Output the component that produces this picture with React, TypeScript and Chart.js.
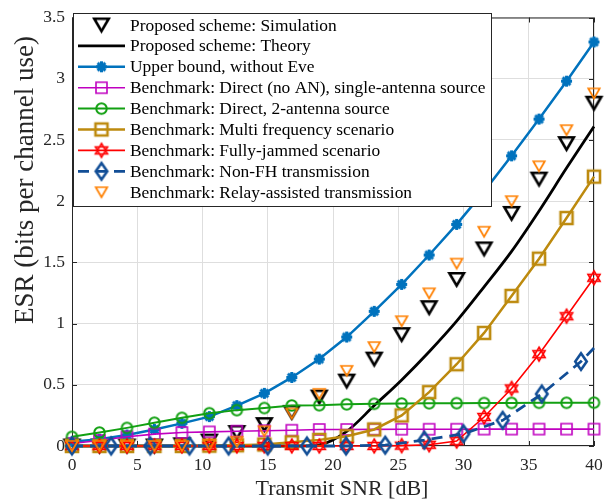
import React, { useEffect, useRef } from 'react';
import { Chart, registerables } from 'chart.js';

Chart.register(...registerables);

// ---------- data ----------
const SNR_DB = [0, 2.105, 4.211, 6.316, 8.421, 10.526, 12.632, 14.737, 16.842, 18.947, 21.053, 23.158, 25.263, 27.368, 29.474, 31.579, 33.684, 35.789, 37.895, 40];
const SIM = [0, 0, 0, 0, 0.01, 0.04, 0.11, 0.175, 0.275, 0.4, 0.53, 0.71, 0.91, 1.13, 1.36, 1.61, 1.9, 2.18, 2.47, 2.8];
const THEORY = [0, 0, 0, 0, 0, 0, 0, 0, 0, 0.01, 0.12, 0.33, 0.54, 0.77, 1.02, 1.3, 1.59, 1.92, 2.27, 2.61];
const UPPER = [0.035, 0.055, 0.09, 0.135, 0.185, 0.24, 0.33, 0.43, 0.56, 0.71, 0.89, 1.1, 1.32, 1.56, 1.81, 2.08, 2.37, 2.67, 2.98, 3.3];
const DIRECT_NO_AN = [0.02, 0.045, 0.075, 0.097, 0.11, 0.115, 0.121, 0.125, 0.129, 0.135, 0.135, 0.136, 0.137, 0.137, 0.137, 0.138, 0.138, 0.138, 0.138, 0.138];
const DIRECT_2ANT = [0.075, 0.11, 0.148, 0.19, 0.23, 0.268, 0.293, 0.31, 0.331, 0.333, 0.34, 0.345, 0.347, 0.349, 0.35, 0.351, 0.352, 0.353, 0.353, 0.354];
const MULTI_FREQ = [0, 0, 0, 0, 0, 0.003, 0.006, 0.012, 0.03, 0.05, 0.08, 0.135, 0.25, 0.44, 0.668, 0.924, 1.226, 1.53, 1.862, 2.2];
const FULL_JAM = [0, 0, 0, 0, 0, 0, 0, 0, 0, 0, 0, 0, 0.003, 0.01, 0.04, 0.237, 0.47, 0.75, 1.06, 1.374];
const NONFH_SNR = [0, 3, 6, 9, 12, 15, 18, 21, 24, 27, 30, 33, 36, 39, 40];
const NONFH = [0, 0, 0, 0, 0, 0, 0, 0, 0.007, 0.048, 0.1, 0.21, 0.425, 0.69, 0.8];
const RELAY = [0, 0, 0, 0, 0, 0.01, 0.035, 0.12, 0.265, 0.426, 0.614, 0.808, 1.019, 1.247, 1.49, 1.75, 2.0, 2.285, 2.58, 2.88];

const LABELS = [
  'Proposed scheme: Simulation',
  'Proposed scheme: Theory',
  'Upper bound, without Eve',
  'Benchmark: Direct (no AN), single-antenna source',
  'Benchmark: Direct, 2-antenna source',
  'Benchmark: Multi frequency scenario',
  'Benchmark: Fully-jammed scenario',
  'Benchmark: Non-FH transmission',
  'Benchmark: Relay-assisted transmission',
];

const X_TITLE = 'Transmit SNR [dB]';
const Y_TITLE = 'ESR (bits per channel use)';
const X_MIN = 0, X_MAX = 40, X_STEP = 5;
const Y_MIN = 0, Y_MAX = 3.5, Y_STEP = 0.5;

// ---------- styles ----------
const C_BLACK = '#000000';
const C_BLUE = '#0072BD';
const C_MAGENTA = '#C000C0';
const C_GREEN = '#12A012';
const C_GOLD = '#BD8A0E';
const C_RED = '#FF0000';
const C_DBLUE = '#124E96';
const C_ORANGE = '#FF8000';
const FONT = '"Liberation Serif", "Times New Roman", serif';
const AX = '#262626';

function makeMarker(kind: string, color: string, w: number, h: number, lw: number): HTMLCanvasElement {
  const pad = Math.ceil(lw) + 2;
  const cw = Math.ceil(w + 2 * pad);
  const ch = Math.ceil(h + 2 * pad);
  const c = document.createElement('canvas');
  c.width = cw;
  c.height = ch;
  const g = c.getContext('2d')!;
  g.strokeStyle = color;
  g.lineWidth = lw;
  g.lineJoin = 'miter';
  const cx = cw / 2, cy = ch / 2, rx = w / 2, ry = h / 2;
  g.beginPath();
  if (kind === 'tri') {
    g.moveTo(cx - rx, cy - ry);
    g.lineTo(cx + rx, cy - ry);
    g.lineTo(cx, cy + ry);
    g.closePath();
  } else if (kind === 'square') {
    g.rect(cx - rx, cy - ry, w, h);
  } else if (kind === 'circle') {
    g.arc(cx, cy, rx, 0, Math.PI * 2);
  } else if (kind === 'diamond') {
    g.moveTo(cx, cy - ry);
    g.lineTo(cx + rx, cy);
    g.lineTo(cx, cy + ry);
    g.lineTo(cx - rx, cy);
    g.closePath();
  } else if (kind === 'hex') {
    for (let t = 0; t < 2; t++) {
      for (let k = 0; k < 3; k++) {
        const a = (-90 + t * 60 + k * 120) * Math.PI / 180;
        const px = cx + rx * Math.cos(a), py = cy + ry * Math.sin(a);
        if (k === 0) g.moveTo(px, py); else g.lineTo(px, py);
      }
      g.closePath();
    }
  } else if (kind === 'star') {
    for (let k = 0; k < 4; k++) {
      const a = k * Math.PI / 4;
      g.moveTo(cx - rx * Math.cos(a), cy - ry * Math.sin(a));
      g.lineTo(cx + rx * Math.cos(a), cy + ry * Math.sin(a));
    }
  }
  g.stroke();
  return c;
}

export default function App() {
  const ref = useRef<HTMLCanvasElement | null>(null);

  useEffect(() => {
    const canvas = ref.current;
    if (!canvas) return;

    const mSim = makeMarker('tri', C_BLACK, 14.5, 12.5, 2.6);
    const mUpper = makeMarker('star', C_BLUE, 11, 11, 3);
    const mMag = makeMarker('square', C_MAGENTA, 11, 11, 1.6);
    const mGreen = makeMarker('circle', C_GREEN, 10.5, 10.5, 2);
    const mGold = makeMarker('square', C_GOLD, 12, 12, 2.6);
    const mRed = makeMarker('hex', C_RED, 14, 14, 1.6);
    const mDia = makeMarker('diamond', C_DBLUE, 11.5, 16.5, 2.6);
    const mOrange = makeMarker('tri', C_ORANGE, 11.5, 10, 1.7);

    const pts = (xs: number[], ys: number[]) => xs.map((x, i) => ({ x, y: ys[i] }));

    const base = { showLine: true, clip: false as any, pointRadius: 6, pointHoverRadius: 6 };

    const datasets: any[] = [
      { ...base, label: LABELS[0], data: pts(SNR_DB, SIM), showLine: false, pointStyle: mSim, borderColor: C_BLACK, order: 9 },
      { ...base, label: LABELS[1], data: pts(SNR_DB, THEORY), pointRadius: 0, borderColor: C_BLACK, borderWidth: 2.8, cubicInterpolationMode: 'monotone', order: 8 },
      { ...base, label: LABELS[2], data: pts(SNR_DB, UPPER), pointStyle: mUpper, borderColor: C_BLUE, borderWidth: 2.5, order: 7 },
      { ...base, label: LABELS[3], data: pts(SNR_DB, DIRECT_NO_AN), pointStyle: mMag, borderColor: C_MAGENTA, borderWidth: 1.6, order: 6 },
      { ...base, label: LABELS[4], data: pts(SNR_DB, DIRECT_2ANT), pointStyle: mGreen, borderColor: C_GREEN, borderWidth: 2, order: 5 },
      { ...base, label: LABELS[5], data: pts(SNR_DB, MULTI_FREQ), pointStyle: mGold, borderColor: C_GOLD, borderWidth: 2.5, order: 4 },
      { ...base, label: LABELS[6], data: pts(SNR_DB, FULL_JAM), pointStyle: mRed, borderColor: C_RED, borderWidth: 1.6, order: 3 },
      { ...base, label: LABELS[7], data: pts(NONFH_SNR, NONFH), pointStyle: mDia, borderColor: C_DBLUE, borderWidth: 2.8, borderDash: [11, 7],
        pointRadius: NONFH_SNR.map((_, i) => (i === NONFH_SNR.length - 1 ? 0 : 6)), order: 2 },
      { ...base, label: LABELS[8], data: pts(SNR_DB, RELAY), showLine: false, pointStyle: mOrange, borderColor: C_ORANGE, order: 1 },
    ];

    const legendItems = [
      { marker: mSim, line: null as any },
      { marker: null, line: { color: C_BLACK, width: 2.8, dash: [] as number[] } },
      { marker: mUpper, line: { color: C_BLUE, width: 2.5, dash: [] } },
      { marker: mMag, line: { color: C_MAGENTA, width: 1.6, dash: [] } },
      { marker: mGreen, line: { color: C_GREEN, width: 2, dash: [] } },
      { marker: mGold, line: { color: C_GOLD, width: 2.5, dash: [] } },
      { marker: mRed, line: { color: C_RED, width: 1.6, dash: [] } },
      { marker: mDia, line: { color: C_DBLUE, width: 2.8, dash: [11, 7] } },
      { marker: mOrange, line: null },
    ];

    const framePlugin = {
      id: 'frame',
      beforeDatasetsDraw(chart: any) {
        const { ctx, chartArea } = chart;
        const { left, right, top, bottom } = chartArea;
        ctx.save();
        ctx.strokeStyle = AX;
        ctx.lineWidth = 1;
        ctx.strokeRect(left + 0.5, top + 0.5, right - left - 1, bottom - top - 1);
        const xs = chart.scales.x, ys = chart.scales.y;
        ctx.beginPath();
        for (let v = X_MIN; v <= X_MAX; v += X_STEP) {
          const p = Math.round(xs.getPixelForValue(v)) + 0.5;
          ctx.moveTo(p, bottom); ctx.lineTo(p, bottom - 5);
          ctx.moveTo(p, top); ctx.lineTo(p, top + 5);
        }
        for (let v = Y_MIN; v <= Y_MAX + 1e-9; v += Y_STEP) {
          const p = Math.round(ys.getPixelForValue(v)) + 0.5;
          ctx.moveTo(left, p); ctx.lineTo(left + 5, p);
          ctx.moveTo(right, p); ctx.lineTo(right - 5, p);
        }
        ctx.stroke();
        ctx.restore();
      },
      afterDraw(chart: any) {
        const { ctx } = chart;
        ctx.save();
        // axis titles
        ctx.fillStyle = AX;
        ctx.textAlign = 'center';
        ctx.textBaseline = 'middle';
        ctx.font = `22px ${FONT}`;
        ctx.fillText(X_TITLE, 342, 489);
        ctx.translate(26, 180);
        ctx.rotate(-Math.PI / 2);
        ctx.font = `27px ${FONT}`;
        ctx.fillText(Y_TITLE, 0, 0);
        ctx.restore();

        // legend
        ctx.save();
        const bx = 73.5, by = 13.5, bw = 418, bh = 193;
        ctx.fillStyle = '#ffffff';
        ctx.fillRect(bx, by, bw, bh);
        ctx.strokeStyle = '#262626';
        ctx.lineWidth = 1;
        ctx.strokeRect(bx, by, bw, bh);
        ctx.font = `17.4px ${FONT}`;
        ctx.textAlign = 'left';
        ctx.textBaseline = 'middle';
        legendItems.forEach((it, i) => {
          const y = 25 + 20.9 * i;
          if (it.line) {
            ctx.save();
            ctx.strokeStyle = it.line.color;
            ctx.lineWidth = it.line.width;
            ctx.setLineDash(it.line.dash);
            ctx.beginPath();
            ctx.moveTo(78, y);
            ctx.lineTo(125, y);
            ctx.stroke();
            ctx.restore();
          }
          if (it.marker) {
            const m = it.marker as HTMLCanvasElement;
            ctx.drawImage(m, 101.5 - m.width / 2, y - m.height / 2);
          }
          ctx.fillStyle = '#000000';
          ctx.fillText(LABELS[i], 130, y + 1);
        });
        ctx.restore();
      },
    };

    const chart = new Chart(canvas, {
      type: 'line',
      data: { datasets },
      options: {
        animation: false,
        responsive: false,
        devicePixelRatio: 1,
        layout: { padding: { top: 13, right: 18, left: 0, bottom: 0 } },
        plugins: { legend: { display: false }, tooltip: { enabled: false } },
        elements: { line: { tension: 0 } },
        scales: {
          x: {
            type: 'linear',
            min: X_MIN,
            max: X_MAX,
            border: { display: false },
            grid: { color: '#dedede', drawTicks: false, lineWidth: 1 },
            ticks: { stepSize: X_STEP, color: AX, font: { family: FONT, size: 17.5 }, padding: 9, maxRotation: 0,
              callback: (v: any) => String(Number(v)) },
            afterFit: (s: any) => { s.height = 57; },
          },
          y: {
            type: 'linear',
            min: Y_MIN,
            max: Y_MAX,
            border: { display: false },
            grid: { color: '#dedede', drawTicks: false, lineWidth: 1 },
            ticks: { stepSize: Y_STEP, color: AX, font: { family: FONT, size: 17.5 }, padding: 7,
              callback: (v: any) => String(Math.round(Number(v) * 10) / 10) },
            afterFit: (s: any) => { s.width = 72; },
          },
        },
      } as any,
      plugins: [framePlugin],
    });

    return () => chart.destroy();
  }, []);

  return (
    <div style={{ position: 'absolute', left: 0, top: 0, width: 612, height: 503, background: '#fff' }}>
      <canvas ref={ref} width={612} height={503} style={{ display: 'block', width: 612, height: 503 }} />
    </div>
  );
}
